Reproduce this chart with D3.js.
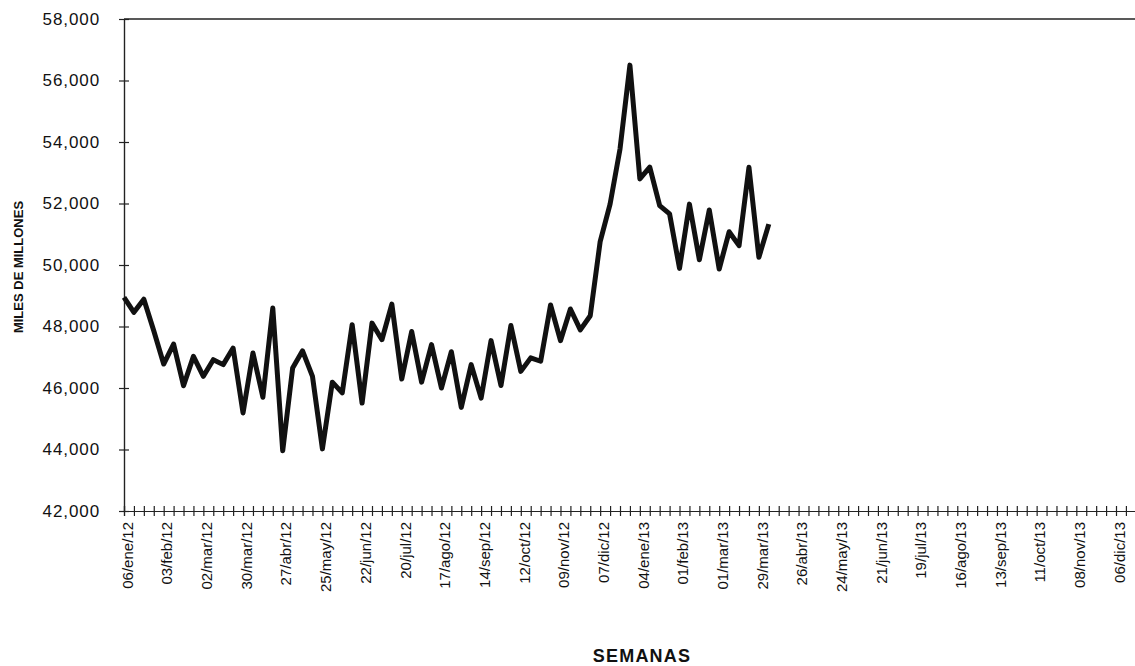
<!DOCTYPE html>
<html>
<head>
<meta charset="utf-8">
<script src="https://cdn.jsdelivr.net/npm/d3@7"></script>
<style>
    body { margin: 0; background: #fff; }
    text { font-family: Arial, "Liberation Sans", sans-serif; fill: #111; }
</style>
</head>
<body>
<div id="chart-area"></div>
<script>
// week index 0 = 06/ene/12, one category per week
const weekCount = 104;

const tickLabels = ["06/ene/12", "03/feb/12", "02/mar/12", "30/mar/12", "27/abr/12", "25/may/12",
    "22/jun/12", "20/jul/12", "17/ago/12", "14/sep/12", "12/oct/12", "09/nov/12", "07/dic/12",
    "04/ene/13", "01/feb/13", "01/mar/13", "29/mar/13", "26/abr/13", "24/may/13", "21/jun/13",
    "19/jul/13", "16/ago/13", "13/sep/13", "11/oct/13", "08/nov/13", "06/dic/13"];

// weekly values (miles de millones), 06/ene/12 .. 05/abr/13
const values = [48950, 48460, 48890, 47860, 46780, 47430, 46075, 47030, 46380, 46920,
    46760, 47300, 45190, 47140, 45700, 48600, 43960, 46650, 47210, 46380,
    44020, 46190, 45840, 48060, 45510, 48110, 47570, 48730, 46290, 47840,
    46190, 47410, 46000, 47180, 45370, 46760, 45670, 47540, 46080, 48030,
    46540, 46980, 46870, 48700, 47540, 48570, 47890, 48350, 50760, 51980,
    53770, 56500, 52800, 53180, 51930, 51660, 49890, 51980, 50170, 51790,
    49870, 51080, 50630, 53180, 50250, 51330];

const yTicks = [42000, 44000, 46000, 48000, 50000, 52000, 54000, 56000, 58000];

LineChart = function(_parentElement){
    this.parentElement = _parentElement;
    this.initVis();
};

LineChart.prototype.initVis = function() {
    let vis = this;

    vis.margin = { left: 124, top: 19, right: 0, bottom: 155 };
    vis.height = 666 - vis.margin.top - vis.margin.bottom;
    vis.step = 9.92;

    vis.svg = d3.select(vis.parentElement)
        .append("svg")
        .attr("width", 1135)
        .attr("height", 666);
    vis.g = vis.svg.append("g")
        .attr("transform", `translate(${vis.margin.left},${vis.margin.top})`);

    // Scales
    vis.x = d3.scaleLinear()
        .domain([0, weekCount - 1])
        .range([0, (weekCount - 1) * vis.step]);
    vis.y = d3.scaleLinear()
        .domain([42000, 58000])
        .range([vis.height, 0]);

    // top border
    vis.g.append("line")
        .attr("x1", 0).attr("x2", 1135)
        .attr("y1", 0).attr("y2", 0)
        .attr("stroke", "#222")
        .attr("stroke-width", 1.3);

    // Y Axis (cross ticks: left + right half)
    vis.g.append("g")
        .attr("class", "y axis")
        .call(d3.axisLeft(vis.y).tickValues(yTicks).tickSize(5).tickPadding(19)
            .tickFormat(d3.format(",")));
    vis.g.append("g")
        .call(d3.axisRight(vis.y).tickValues(yTicks).tickSize(5).tickFormat(""));

    // X Axis (one cross tick per week)
    let weeks = d3.range(weekCount);
    vis.g.append("g")
        .attr("transform", `translate(0,${vis.height})`)
        .call(d3.axisBottom(vis.x).tickValues(weeks).tickSize(5).tickFormat(""));
    vis.g.append("g")
        .attr("transform", `translate(0,${vis.height})`)
        .call(d3.axisTop(vis.x).tickValues(weeks).tickSize(5).tickFormat(""));

    // X labels every 4 weeks
    vis.xLabels = vis.g.append("g")
        .attr("transform", `translate(0,${vis.height})`)
        .call(d3.axisBottom(vis.x)
            .tickValues(tickLabels.map((d, i) => i * 4))
            .tickSize(0)
            .tickFormat((d, i) => tickLabels[i]));
    vis.xLabels.select(".domain").remove();
    vis.xLabels.selectAll("text")
        .attr("transform", "translate(3,11) rotate(-90)")
        .attr("x", 0)
        .attr("y", 0)
        .attr("dy", "0.35em")
        .attr("text-anchor", "end")
        .attr("font-size", "15px");

    vis.g.selectAll(".domain, .tick line")
        .attr("stroke", "#222")
        .attr("stroke-width", 1.2);
    vis.g.selectAll(".y.axis text")
        .attr("font-size", "17px")
        .attr("letter-spacing", "0.9px")
        .attr("fill", "#111");

    // Line
    vis.line = d3.line()
        .x((d, i) => vis.x(i))
        .y(d => vis.y(d));
    vis.g.append("path")
        .datum(values)
        .attr("fill", "none")
        .attr("stroke", "#111")
        .attr("stroke-width", 5)
        .attr("stroke-linejoin", "round")
        .attr("d", vis.line);

    // Labels
    vis.svg.append("text")
        .attr("transform", "translate(23,267) rotate(-90)")
        .attr("text-anchor", "middle")
        .attr("font-size", "13px")
        .attr("font-weight", "bold")
        .text("MILES DE MILLONES");
    vis.svg.append("text")
        .attr("x", 642)
        .attr("y", 662)
        .attr("text-anchor", "middle")
        .attr("font-size", "18px")
        .attr("font-weight", "bold")
        .attr("letter-spacing", "1.2px")
        .text("SEMANAS");
};

new LineChart("#chart-area");
</script>
</body>
</html>
